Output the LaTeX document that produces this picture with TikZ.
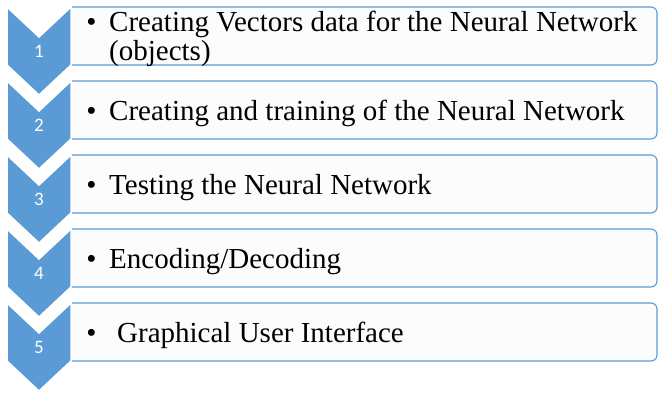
\documentclass[tikz,border=0pt]{standalone}
\usepackage{fontspec}
\setmainfont{Liberation Serif}
\newfontfamily\numfont{Carlito}
\definecolor{chevblue}{RGB}{91,155,213}
\definecolor{boxfill}{RGB}{252,252,252}
\tikzset{
  chev/.style={fill=chevblue, draw=white, line width=1.5pt, line join=miter},
  stepbox/.style={fill=boxfill, draw=chevblue, line width=1.1pt},
  num/.style={text=white, font=\numfont\fontsize{19}{19}\selectfont, inner sep=0pt, anchor=base},
  itemtext/.style={font=\fontsize{29}{29}\selectfont, inner sep=0pt, anchor=base west},
  bul/.style={font=\fontsize{29}{29}\selectfont, inner sep=0pt, anchor=base},
}
\newcommand{\stepshape}[1]{%
  \draw[stepbox] (71,#1) [rounded corners=6pt] -- (657,#1) -- (657,#1+58) [sharp corners] -- (71,#1+58) -- cycle;
  \draw[chev] (7,#1) -- (39,#1+30) -- (71,#1) -- (71,#1+58) -- (39,#1+88) -- (7,#1+58) -- cycle;
}
\begin{document}
\begin{tikzpicture}[x=1pt,y=-1pt]
\useasboundingbox[fill=white] (0,0) rectangle (658,394);
\stepshape{7}
\stepshape{81}
\stepshape{155}
\stepshape{229}
\stepshape{303}
% numbers
\node[num] (n1) at (39,57.5) {1};
\node[num] (n2) at (39,131.5) {2};
\node[num] (n3) at (39,205.5) {3};
\node[num] (n4) at (39,279.5) {4};
\node[num] (n5) at (39,353.5) {5};
% bullets
\node[bul] (b1) at (91.5,31) {•};
\node[bul] (b2) at (91.5,120) {•};
\node[bul] (b3) at (91.5,194) {•};
\node[bul] (b4) at (91.5,268) {•};
\node[bul] (b5) at (91.5,342) {•};
% texts
\node[itemtext] (t1a) at (109,31) {Creating Vectors data for the Neural Network};
\node[itemtext] (t1b) at (109,60) {(objects)};
\node[itemtext] (t2) at (109,120) {Creating and training of the Neural Network};
\node[itemtext] (t3) at (109,194) {Testing the Neural Network};
\node[itemtext] (t4) at (109,268) {Encoding/Decoding};
\node[itemtext] (t5) at (117,342) {Graphical User Interface};
\end{tikzpicture}
\end{document}
